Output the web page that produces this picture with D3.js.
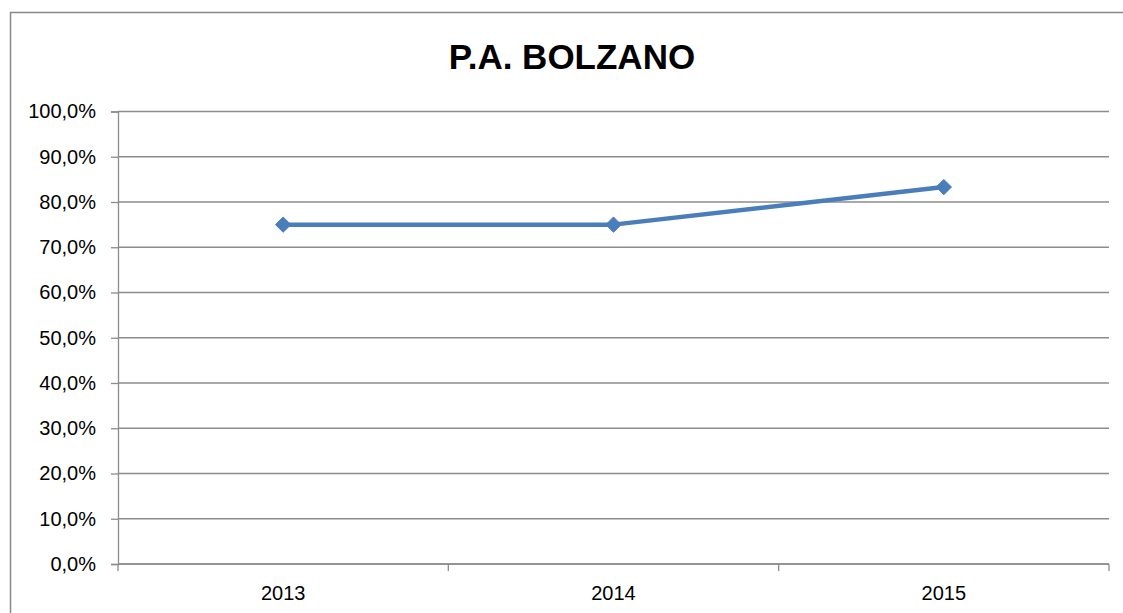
<!DOCTYPE html>
<html>
<head>
<meta charset="utf-8">
<script src="https://cdn.jsdelivr.net/npm/d3@7/dist/d3.min.js"></script>
<style>
  html, body { margin: 0; padding: 0; background: #fff; }
  svg { display: block; font-family: "Liberation Sans", Arial, sans-serif; }
</style>
</head>
<body>
<svg id="chart" width="1123" height="613"></svg>
<script>
// data
var years = ['2013', '2014', '2015'];
var values = [0.75, 0.75, 0.833];
var yTicks = [0, 0.1, 0.2, 0.3, 0.4, 0.5, 0.6, 0.7, 0.8, 0.9, 1.0];
var title = 'P.A. BOLZANO';

var svg = d3.select('#chart');

var margin = { left: 118, right: 1109, top: 111.5, bottom: 564 };

// outer chart border (right and bottom edges fall outside the picture)
svg.append('rect')
    .attr('x', 10.5).attr('y', 12.5)
    .attr('width', 1140).attr('height', 640)
    .attr('fill', 'none')
    .attr('stroke', '#888')
    .attr('stroke-width', 1.5);

svg.append('text')
    .attr('x', 572).attr('y', 69)
    .attr('text-anchor', 'middle')
    .attr('font-size', 35)
    .attr('font-weight', 'bold')
    .attr('fill', '#000')
    .text(title);

var x = d3.scaleBand()
    .domain(years)
    .range([margin.left, margin.right]);

var y = d3.scaleLinear()
    .domain([0, 1])
    .range([margin.bottom, margin.top]);

var pct = function(d) { return d3.format('.1f')(d * 100).replace('.', ',') + '%'; };

// horizontal gridlines
svg.append('g')
    .selectAll('line')
    .data(yTicks)
    .enter().append('line')
    .attr('x1', margin.left).attr('x2', margin.right)
    .attr('y1', function(d) { return y(d); })
    .attr('y2', function(d) { return y(d); })
    .attr('stroke', '#8c8c8c')
    .attr('stroke-width', 1.3);

// y axis
var yAxis = svg.append('g')
    .attr('transform', 'translate(' + margin.left + ',0)')
    .call(d3.axisLeft(y).tickValues(yTicks).tickFormat(pct).tickSize(7).tickPadding(15));
yAxis.select('.domain').attr('stroke', '#8c8c8c').attr('stroke-width', 1.3);
yAxis.selectAll('.tick line').attr('stroke', '#8c8c8c').attr('stroke-width', 1.3);
yAxis.selectAll('.tick text')
    .attr('font-size', 20)
    .attr('font-family', '"Liberation Sans", Arial, sans-serif')
    .attr('fill', '#000');

// x axis with ticks at band edges
var xAxisG = svg.append('g')
    .attr('transform', 'translate(0,' + margin.bottom + ')');
xAxisG.append('line')
    .attr('x1', margin.left).attr('x2', margin.right)
    .attr('stroke', '#8c8c8c').attr('stroke-width', 1.3);
var edges = years.map(function(d) { return x(d); }).concat([x(years[years.length - 1]) + x.bandwidth()]);
xAxisG.selectAll('line.tk')
    .data(edges)
    .enter().append('line')
    .attr('class', 'tk')
    .attr('x1', function(d) { return d; }).attr('x2', function(d) { return d; })
    .attr('y1', 0).attr('y2', 7)
    .attr('stroke', '#8c8c8c').attr('stroke-width', 1.3);
xAxisG.selectAll('text')
    .data(years)
    .enter().append('text')
    .attr('x', function(d) { return x(d) + x.bandwidth() / 2; })
    .attr('y', 36)
    .attr('text-anchor', 'middle')
    .attr('font-size', 20)
    .attr('fill', '#000')
    .text(function(d) { return d; });

// series line
var line = d3.line()
    .x(function(d, i) { return x(years[i]) + x.bandwidth() / 2; })
    .y(function(d) { return y(d); });

svg.append('path')
    .datum(values)
    .attr('d', line)
    .attr('fill', 'none')
    .attr('stroke', '#4a7ebb')
    .attr('stroke-width', 4.5)
    .attr('stroke-linejoin', 'round');

// diamond markers
svg.append('g')
    .selectAll('path')
    .data(values)
    .enter().append('path')
    .attr('d', d3.symbol().type(d3.symbolDiamond2).size(150))
    .attr('transform', function(d, i) {
        return 'translate(' + (x(years[i]) + x.bandwidth() / 2) + ',' + y(d) + ')';
    })
    .attr('fill', '#4a7ebb')
    .attr('stroke', '#4a7ebb')
    .attr('stroke-width', 1);
</script>
</body>
</html>
